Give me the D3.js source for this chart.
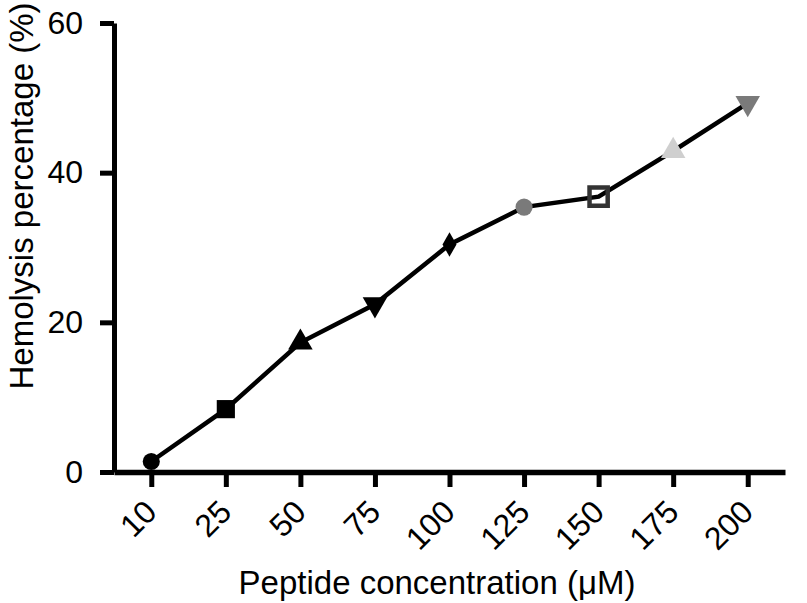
<!DOCTYPE html>
<html>
<head>
<meta charset="utf-8">
<script src="https://cdn.jsdelivr.net/npm/d3@7"></script>
<style>
  body { margin: 0; background: #fff; }
  svg { display: block; font-family: "Liberation Sans", Arial, sans-serif; }
</style>
</head>
<body>
<svg width="807" height="603"></svg>
<script>
const concentrations = ["10", "25", "50", "75", "100", "125", "150", "175", "200"];
const hemolysis = [1.4, 8.4, 17.3, 22.4, 30.4, 35.4, 36.8, 42.9, 49.3];
const yTicks = [0, 20, 40, 60];
// marker shape + colour for each concentration
const shapes = ["circle", "square", "triangle", "triangleDown", "diamond", "circle", "squareOpen", "triangle", "triangleDown"];
const colors = ["#000", "#000", "#000", "#000", "#000", "#7a7a7a", "#333", "#cfcfcf", "#7a7a7a"];

const width = 807, height = 603;
const margin = { top: 23, left: 114, bottom: 131, right: 22 };

const svg = d3.select("svg");

const x = d3.scalePoint().domain(concentrations)
  .range([margin.left, width - margin.right]).padding(0.5);
const y = d3.scaleLinear().domain([0, 60])
  .range([height - margin.bottom, margin.top]);

// y axis
const yAxis = svg.append("g")
  .attr("transform", `translate(${margin.left},0)`)
  .call(d3.axisLeft(y).tickValues(yTicks).tickSize(14).tickPadding(17).tickSizeOuter(0));
yAxis.select(".domain").attr("stroke", "#000").attr("stroke-width", 5);
yAxis.selectAll(".tick line").attr("stroke", "#000").attr("stroke-width", 5);
yAxis.selectAll(".tick text").attr("font-size", 32).attr("fill", "#000")
  .attr("font-family", "Liberation Sans, Arial, sans-serif");

// x axis
const xAxis = svg.append("g")
  .attr("transform", `translate(0,${height - margin.bottom})`)
  .call(d3.axisBottom(x).tickSize(15).tickSizeOuter(0));
xAxis.select(".domain").attr("stroke", "#000").attr("stroke-width", 5.5);
xAxis.selectAll(".tick line").attr("stroke", "#000").attr("stroke-width", 5);
xAxis.selectAll(".tick text")
  .attr("font-size", 32).attr("fill", "#000")
  .attr("font-family", "Liberation Sans, Arial, sans-serif")
  .attr("text-anchor", "end")
  .attr("dy", "0.35em")
  .attr("transform", "translate(-1,34) rotate(-45)")
  .attr("y", 0).attr("x", 0);

// line
const line = d3.line()
  .x((d, i) => x(concentrations[i]))
  .y(d => y(d));
svg.append("path")
  .datum(hemolysis)
  .attr("fill", "none")
  .attr("stroke", "#000")
  .attr("stroke-width", 4.5)
  .attr("d", line);

// markers
const symbolFor = {
  circle: d3.symbol(d3.symbolCircle, 230),
  square: d3.symbol(d3.symbolSquare, 330),
  squareOpen: d3.symbol(d3.symbolSquare, 330),
  triangle: d3.symbol(d3.symbolTriangle, 260),
  triangleDown: d3.symbol(d3.symbolTriangle, 260),
  diamond: d3.symbol(d3.symbolDiamond, 170)
};
svg.append("g").selectAll("path")
  .data(hemolysis)
  .join("path")
  .attr("d", (d, i) => symbolFor[shapes[i]]())
  .attr("transform", (d, i) => `translate(${x(concentrations[i])},${y(d)})` + (shapes[i] === "triangleDown" ? " rotate(180)" : ""))
  .attr("fill", (d, i) => shapes[i] === "squareOpen" ? "none" : colors[i])
  .attr("stroke", (d, i) => shapes[i] === "squareOpen" ? colors[i] : "none")
  .attr("stroke-width", 4.5);

// axis titles
svg.append("text")
  .attr("x", 437).attr("y", 594)
  .attr("text-anchor", "middle")
  .attr("font-size", 33)
  .text("Peptide concentration (\u03bcM)");

svg.append("text")
  .attr("transform", "translate(33,196) rotate(-90)")
  .attr("text-anchor", "middle")
  .attr("font-size", 33)
  .text("Hemolysis percentage (%)");
</script>
</body>
</html>
